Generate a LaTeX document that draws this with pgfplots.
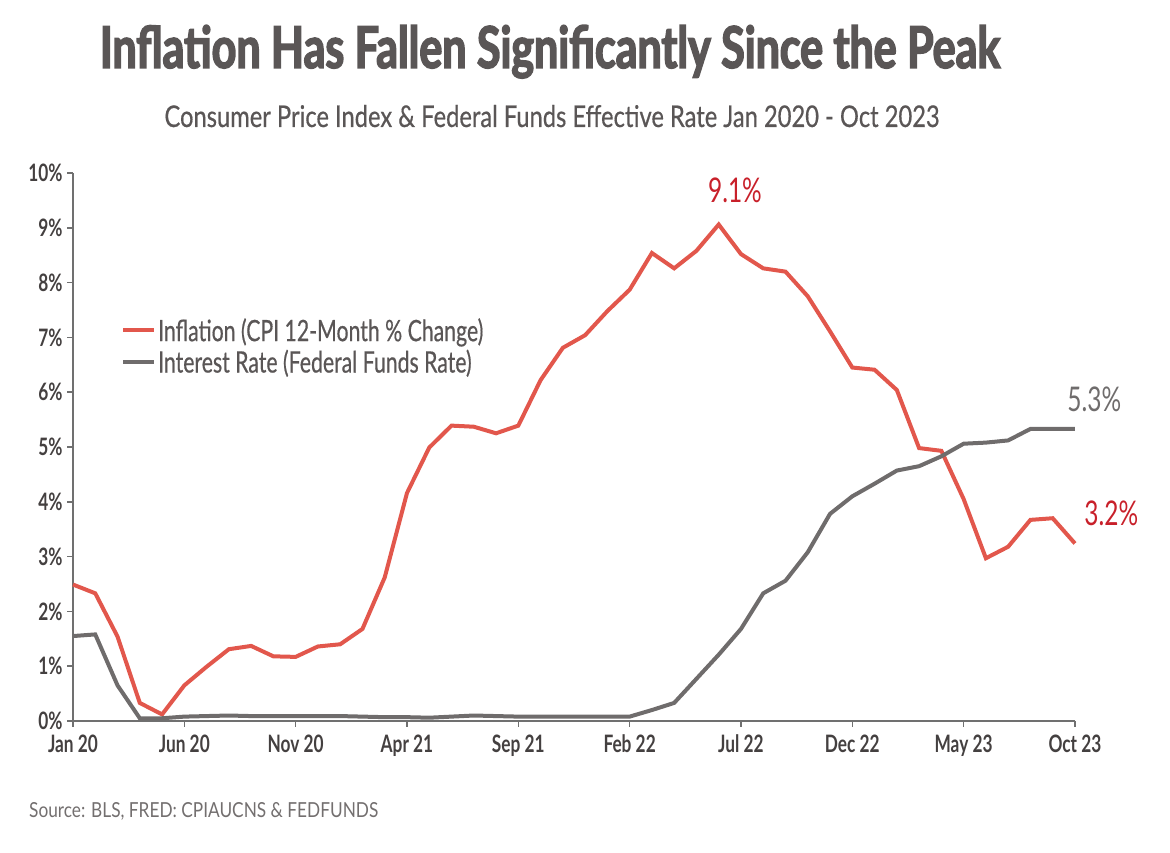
\documentclass[border=0pt]{standalone}
\usepackage{pgfplots}
\pgfplotsset{compat=1.18}
\usepackage{fontspec}
\setmainfont{Lato}
\newfontfamily\condf[FakeStretch=0.72]{Lato}
\newfontfamily\titlef[FakeStretch=0.7, FakeBold=2.5]{Lato}
\definecolor{redline}{HTML}{E2574C}
\definecolor{redlab}{HTML}{C8202A}
\definecolor{greyline}{HTML}{6F6C6C}
\definecolor{axisgrey}{HTML}{707070}
\definecolor{txt}{HTML}{5A5656}
\definecolor{ticktxt}{HTML}{444040}
\begin{document}
\begin{tikzpicture}
\useasboundingbox (0pt,0pt) rectangle (1170pt,852pt);
\node[anchor=base, text=txt, inner sep=0pt] at (550pt,784pt) {\resizebox{900pt}{43pt}{\titlef\bfseries Inflation Has Fallen Significantly Since the Peak}};
\node[anchor=base, text=txt, inner sep=0pt] at (552pt,725pt) {\resizebox{775pt}{22pt}{\addfontfeatures{FakeBold=0.6}Consumer Price Index \& Federal Funds Effective Rate Jan 2020 - Oct 2023}};
\node[anchor=base west, text=txt!85, inner sep=0pt] at (29pt,35pt) {\resizebox{349pt}{15pt}{\addfontfeatures{FakeStretch=0.8}\fontseries{l}\selectfont Source: BLS, FRED: CPIAUCNS \& FEDFUNDS}};
\begin{axis}[
  at={(73pt,131pt)}, anchor=south west, scale only axis,
  width=1002pt, height=548pt,
  xmin=0, xmax=45, ymin=0, ymax=10,
  axis x line=bottom, axis y line=left,
  axis line style={-, draw=axisgrey, line width=2.5pt},
  xtick={0,5,...,45},
  xticklabels={Jan 20,Jun 20,Nov 20,Apr 21,Sep 21,Feb 22,Jul 22,Dec 22,May 23,Oct 23},
  ytick={0,1,...,10},
  yticklabels={0\%,1\%,2\%,3\%,4\%,5\%,6\%,7\%,8\%,9\%,10\%},
  tick style={draw=axisgrey, line width=1.5pt},
  major tick length=6pt,
  xtick align=outside, ytick align=outside,
  ticklabel style={font=\condf\bfseries\fontsize{24}{24}\selectfont, text=ticktxt},
  xticklabel style={yshift=-4pt},
  yticklabel style={xshift=-1pt},
  clip=false,
  legend style={at={(0.0479,0.684)}, anchor=west, draw=none, fill=none, inner sep=0pt,
    font=\condf\addfontfeatures{FakeBold=0.5}\fontsize{29.5}{29.5}\selectfont, text=txt, row sep=3pt,
    /tikz/every even column/.append style={column sep=6pt}},
  legend cell align=left,
  legend image code/.code={\draw[#1] (0pt,0pt) -- (31pt,0pt);},
]
\addplot[redline, line width=4pt] coordinates {
(0,2.49)(1,2.33)(2,1.54)(3,0.33)(4,0.12)(5,0.65)(6,0.99)(7,1.31)(8,1.37)(9,1.18)(10,1.17)(11,1.36)
(12,1.40)(13,1.68)(14,2.62)(15,4.16)(16,4.99)(17,5.39)(18,5.37)(19,5.25)(20,5.39)(21,6.22)(22,6.81)(23,7.04)
(24,7.48)(25,7.87)(26,8.54)(27,8.26)(28,8.58)(29,9.06)(30,8.52)(31,8.26)(32,8.20)(33,7.75)(34,7.11)(35,6.45)
(36,6.41)(37,6.04)(38,4.98)(39,4.93)(40,4.05)(41,2.97)(42,3.18)(43,3.67)(44,3.70)(45,3.24)};
\addlegendentry{Inflation (CPI 12-Month \% Change)}
\addplot[greyline, line width=4pt] coordinates {
(0,1.55)(1,1.58)(2,0.65)(3,0.05)(4,0.05)(5,0.08)(6,0.09)(7,0.10)(8,0.09)(9,0.09)(10,0.09)(11,0.09)
(12,0.09)(13,0.08)(14,0.07)(15,0.07)(16,0.06)(17,0.08)(18,0.10)(19,0.09)(20,0.08)(21,0.08)(22,0.08)(23,0.08)
(24,0.08)(25,0.08)(26,0.20)(27,0.33)(28,0.77)(29,1.21)(30,1.68)(31,2.33)(32,2.56)(33,3.08)(34,3.78)(35,4.10)
(36,4.33)(37,4.57)(38,4.65)(39,4.83)(40,5.06)(41,5.08)(42,5.12)(43,5.33)(44,5.33)(45,5.33)};
\addlegendentry{Interest Rate (Federal Funds Rate)}
\node[anchor=base, text=redlab, font=\condf\fontsize{34}{34}\selectfont, inner sep=0pt] at (axis cs:29.73,9.47) {9.1\%};
\node[anchor=base, text=greyline, font=\condf\fontsize{34}{34}\selectfont, inner sep=0pt] at (axis cs:45.87,5.64) {5.3\%};
\node[anchor=base, text=redlab, font=\condf\fontsize{34}{34}\selectfont, inner sep=0pt] at (axis cs:46.63,3.56) {3.2\%};
\end{axis}
\end{tikzpicture}
\end{document}
